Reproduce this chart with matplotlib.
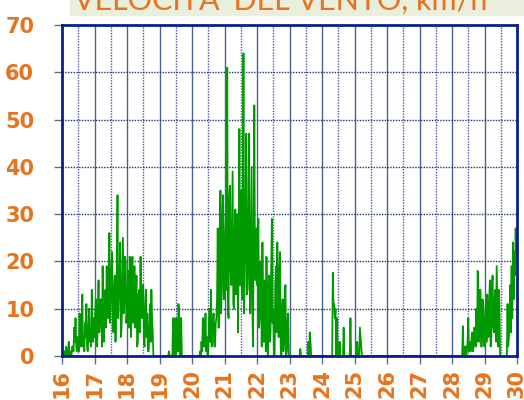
import numpy as np
import matplotlib.pyplot as plt
from matplotlib.patches import Rectangle

# velocità del vento, valori ogni mezz'ora (km/h), giorni 16..29
day16 = [0, 0, 0, 0, 1, 0, 2, 1, 0, 1, 3, 0, 1, 0, 0, 2, 2, 1, 6, 3, 8, 2, 1, 4,
         4, 1, 9, 3, 2, 6, 13, 2, 3, 1, 7, 4, 11, 2, 1, 5, 10, 3, 5, 2, 14, 6, 3, 8]
day17 = [4, 9, 12, 3, 2, 10, 16, 5, 7, 12, 11, 2, 19, 8, 3, 13, 14, 6, 19, 9, 8, 15, 26, 7,
         12, 18, 22, 9, 5, 14, 17, 3, 10, 20, 34, 8, 13, 17, 24, 4, 6, 15, 25, 9, 11, 21, 20, 7]
day18 = [9, 14, 18, 6, 21, 10, 4, 15, 21, 7, 12, 19, 6, 11, 17, 2, 3, 13, 14, 5, 21, 9, 8, 15,
         15, 3, 2, 10, 14, 4, 9, 1, 1, 6, 11, 3, 14, 8, 5, 0, 0, 0, 0, 0, 0, 0, 0, 0]
day19 = [0] * 14 + [1] + [0] * 5 + [8, 0, 8, 7, 0, 8, 6, 1, 11, 8, 0, 8, 8, 0] + [0] * 14
day20 = [0] * 12 + [1, 0, 3, 1, 8, 2, 2, 6, 9, 1, 4, 0, 1, 7, 10, 3, 14, 2, 3, 8,
                    9, 2, 2, 7, 8, 12, 27, 6, 6, 22, 35, 9, 14, 30, 34, 12]
day21 = [12, 25, 30, 14, 61, 10, 8, 33, 36, 18, 15, 28, 39, 11, 10, 26, 31, 13, 18, 30, 5, 22, 48, 15,
         22, 35, 12, 20, 64, 9, 20, 30, 47, 13, 14, 27, 47, 16, 9, 25, 40, 12, 2, 22, 53, 18, 16, 27]
day22 = [15, 22, 29, 6, 8, 20, 18, 2, 24, 10, 3, 16, 12, 1, 21, 8, 0, 14, 17, 3, 5, 19, 29, 7,
         10, 0, 0, 15, 19, 5, 24, 11, 4, 18, 22, 2, 0, 10, 12, 1, 3, 11, 15, 0, 1, 7, 9, 0]
day23 = [0] * 16 + [1.5] + [0] * 11 + [3, 0, 5, 3] + [0] * 16
day24 = [0] * 16 + [17.6, 10, 11, 8, 10, 0, 8, 0, 0, 0, 3, 0, 0, 0, 0, 0,
                    6, 0, 0, 0, 0, 0, 0, 0, 0, 0, 8, 0, 0, 0, 0, 0]
day25 = [0, 0, 0, 0, 3, 0, 0, 0, 6, 4, 2] + [0] * 37
day26 = [0] * 48
day27 = [0] * 48
day28 = [0] * 16 + [6.3, 0, 1, 2, 2, 0, 1, 3, 8, 1, 3, 2, 1, 4, 5, 1,
                    2, 6, 5, 2, 10, 3, 18, 4, 3, 14, 14, 2, 2, 12, 11, 3]
day29 = [2, 8, 11, 3, 13, 5, 4, 12, 16, 2, 3, 15, 17, 6, 5, 12, 14, 3, 19, 10, 2, 14, 11, 0,
         0, 0, 0, 0, 0, 0, 0, 0, 0, 0, 11, 2, 4, 9, 15, 5, 19, 8, 24, 12, 22, 17, 27, 20]
last_value = 27

days = [day16, day17, day18, day19, day20, day21, day22,
        day23, day24, day25, day26, day27, day28, day29]
speed = np.array(sum(days, []) + [last_value], dtype=float)
t = 16 + np.arange(len(speed)) / 48.0

orange = '#e8731e'
navy = '#0b1e8c'

fig = plt.figure(figsize=(5.24, 4), dpi=100)
ax = fig.add_axes([62 / 524, 1 - 356 / 400, 455 / 524, 331 / 400])

# griglia
for d in np.arange(16.5, 30, 0.5):
    if d % 1 == 0:
        ax.axvline(d, color='#4a6590', lw=1, zorder=0)
    else:
        ax.axvline(d, color='#5050b0', lw=1, ls=(0, (1, 1)), zorder=0)
for v in range(10, 70, 10):
    ax.axhline(v, color='#1f3570', lw=1, ls=(0, (1, 1)), zorder=0)

ax.plot(t, speed, color='#009900', lw=1.3, zorder=2)

ax.set_xlim(16, 30)
ax.set_ylim(0, 70)
ax.set_xticks(range(16, 31))
ax.set_yticks(range(0, 71, 10))
ax.tick_params(axis='both', colors='#5a7090', length=6, width=1)
for lab in ax.get_xticklabels():
    lab.set_rotation(90)
    lab.set_color(orange)
    lab.set_fontweight('bold')
    lab.set_fontsize(15)
    lab.set_va('top')
for lab in ax.get_yticklabels():
    lab.set_color(orange)
    lab.set_fontweight('bold')
    lab.set_fontsize(15)
ax.tick_params(axis='x', pad=3)
ax.tick_params(axis='y', pad=14)

for sp in ax.spines.values():
    sp.set_color(navy)
    sp.set_linewidth(2)

# riquadro del titolo (tagliato in alto)
fig.patches.append(Rectangle((70 / 524, 1 - 15 / 400), 1, 15 / 400,
                             transform=fig.transFigure, color='#eaeedc', zorder=0))
fig.text(0.535, 1 - 10 / 400, "VELOCITA' DEL VENTO, km/h", color=orange,
         fontsize=22, family='Lato', ha='center', va='baseline')

fig.savefig('out.png', dpi=100)
